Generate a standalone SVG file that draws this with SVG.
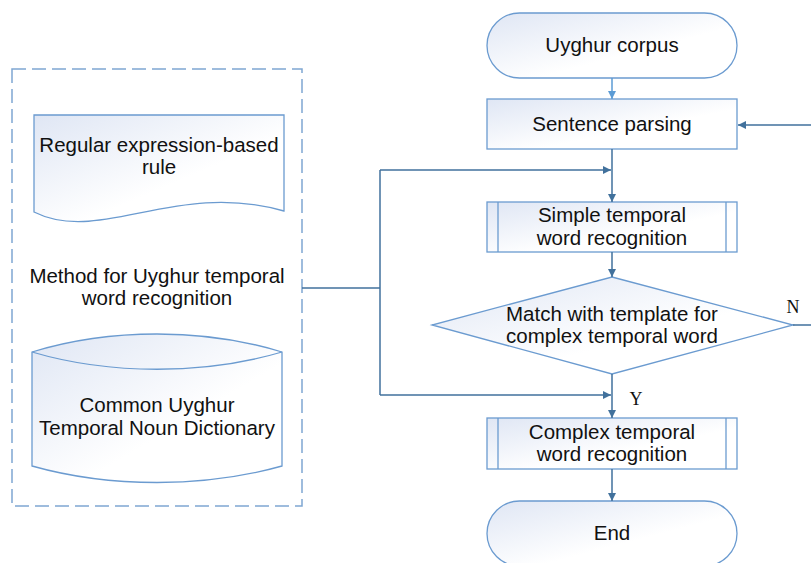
<svg xmlns="http://www.w3.org/2000/svg" width="811" height="563" viewBox="0 0 811 563">
  <defs>
    <linearGradient id="nodeFill" x1="0" y1="0" x2="1" y2="1">
      <stop offset="0" stop-color="#dfe6f4"/>
      <stop offset="0.6" stop-color="#ffffff"/>
    </linearGradient>
    <marker id="arrow" viewBox="0 0 10 10" refX="10" refY="5" markerWidth="8" markerHeight="8" markerUnits="userSpaceOnUse" orient="auto">
      <path d="M0,0 L10,5 L0,10 Z" fill="#41719c"/>
    </marker>
    <marker id="arrowLight" viewBox="0 0 10 10" refX="10" refY="5" markerWidth="8" markerHeight="8" markerUnits="userSpaceOnUse" orient="auto">
      <path d="M0,0 L10,5 L0,10 Z" fill="#5b9bd5"/>
    </marker>
  </defs>
  <style>
    .node { fill: url(#nodeFill); stroke: #6b9bd0; stroke-width: 1.3; }
    .inner { fill: none; stroke: #6b9bd0; stroke-width: 1.3; }
    .label { font-family: "Liberation Sans", Arial, sans-serif; font-size: 20.5px; fill: #111; text-anchor: middle; }
    .yn { font-family: "Liberation Serif", "Times New Roman", serif; font-size: 18px; fill: #111; text-anchor: middle; }
    .conn { fill: none; stroke: #41719c; stroke-width: 1.5; }
    .frame { fill: none; stroke: #7fa7d2; stroke-width: 1.5; stroke-dasharray: 14 6; }
  </style>
  <rect width="811" height="563" fill="#ffffff"/>

  <!-- method container -->
  <g id="method">
    <rect class="frame" x="12" y="69" width="290" height="437"/>
    <text class="label" x="157" y="283">Method for Uyghur temporal</text>
    <text class="label" x="157" y="305">word recognition</text>
  </g>

  <g id="regex-rule">
    <path class="node" d="M34,115 L284,115 L284,211 C175,180 100,245 34,212 Z"/>
    <text class="label" x="159" y="152">Regular expression-based</text>
    <text class="label" x="159" y="174">rule</text>
  </g>

  <g id="noun-dictionary">
    <path class="node" d="M32,352 C110,328 204,328 282,352 L282,466 C204,488 110,488 32,466 Z"/>
    <path class="inner" d="M32,352 C110,375 204,375 282,352"/>
    <text class="label" x="157" y="412">Common Uyghur</text>
    <text class="label" x="157" y="435">Temporal Noun Dictionary</text>
  </g>

  <!-- flow nodes -->
  <g id="corpus">
    <rect class="node" x="487" y="13" width="250" height="65" rx="32.5"/>
    <text class="label" x="612" y="52">Uyghur corpus</text>
  </g>

  <g id="sentence-parsing">
    <rect class="node" x="487" y="99" width="250" height="50"/>
    <text class="label" x="612" y="131">Sentence parsing</text>
  </g>

  <g id="simple-recognition">
    <rect class="node" x="487" y="202" width="250" height="50"/>
    <line class="inner" x1="498" y1="202" x2="498" y2="252"/>
    <line class="inner" x1="726" y1="202" x2="726" y2="252"/>
    <text class="label" x="612" y="222">Simple temporal</text>
    <text class="label" x="612" y="245">word recognition</text>
  </g>

  <g id="template-match">
    <path class="node" d="M612,277 L793,325 L612,374 L432,325 Z"/>
    <text class="label" x="612" y="321">Match with template for</text>
    <text class="label" x="612" y="343">complex temporal word</text>
  </g>

  <g id="complex-recognition">
    <rect class="node" x="487" y="418" width="250" height="51"/>
    <line class="inner" x1="498" y1="418" x2="498" y2="469"/>
    <line class="inner" x1="726" y1="418" x2="726" y2="469"/>
    <text class="label" x="612" y="439">Complex temporal</text>
    <text class="label" x="612" y="461">word recognition</text>
  </g>

  <g id="end">
    <rect class="node" x="487" y="501" width="250" height="65" rx="32.5"/>
    <text class="label" x="612" y="540">End</text>
  </g>

  <!-- connectors -->
  <g id="connectors">
    <line x1="612" y1="78" x2="612" y2="99" stroke="#5b9bd5" stroke-width="1.5" marker-end="url(#arrowLight)"/>
    <line class="conn" x1="811" y1="125" x2="738" y2="125" marker-end="url(#arrow)"/>
    <line class="conn" x1="612" y1="149" x2="612" y2="202" marker-end="url(#arrow)"/>
    <polyline class="conn" points="302,288 380,288"/>
    <line class="conn" x1="380" y1="170" x2="380" y2="395"/>
    <line class="conn" x1="380" y1="170" x2="611" y2="170" marker-end="url(#arrow)"/>
    <line class="conn" x1="612" y1="252" x2="612" y2="277" marker-end="url(#arrow)"/>
    <line class="conn" x1="793" y1="325" x2="811" y2="325"/>
    <line class="conn" x1="380" y1="395" x2="611" y2="395" marker-end="url(#arrow)"/>
    <line class="conn" x1="612" y1="374" x2="612" y2="418" marker-end="url(#arrow)"/>
    <line class="conn" x1="612" y1="469" x2="612" y2="501" marker-end="url(#arrow)"/>
    <text class="yn" x="793" y="313">N</text>
    <text class="yn" x="636" y="405">Y</text>
  </g>
</svg>
